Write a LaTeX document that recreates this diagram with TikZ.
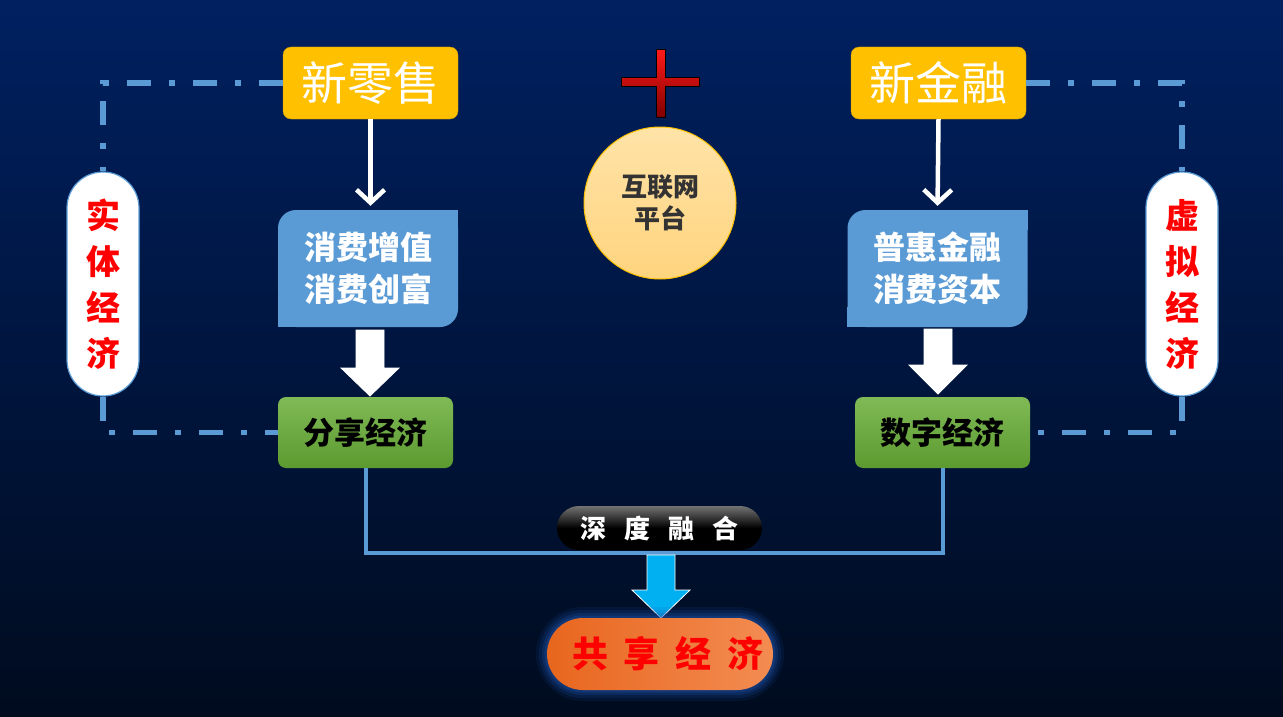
\documentclass[tikz,border=0pt]{standalone}
\usepackage{fontspec}
\setmainfont{Noto Sans CJK SC}
\usetikzlibrary{positioning,arrows.meta}
\definecolor{bgtop}{HTML}{002060}
\definecolor{bgbot}{HTML}{000B1E}
\definecolor{gold}{HTML}{FFC000}
\definecolor{goldline}{HTML}{C99A00}
\definecolor{boxblue}{HTML}{5B9BD5}
\definecolor{linkblue}{HTML}{5B9BD5}
\definecolor{greentop}{HTML}{80BA56}
\definecolor{greenbot}{HTML}{5C9A30}
\definecolor{pillred}{HTML}{FF0000}
\definecolor{suntop}{HTML}{FFE3A8}
\definecolor{sunbot}{HTML}{FFD47E}
\definecolor{arrowcyan}{HTML}{00B0F0}
\definecolor{orleft}{HTML}{E8661E}
\definecolor{orright}{HTML}{F38C52}
\definecolor{glow}{HTML}{1E55B0}
\begin{document}
\begin{tikzpicture}[x=1pt,y=-1pt,
ybox/.style={draw=goldline,fill=gold,rounded corners=8pt,minimum width=175pt,minimum height=72pt,text=white,font=\fontsize{46}{46}\selectfont},
bbox/.style={fill=boxblue,rounded corners=18pt,minimum width=180pt,minimum height=117pt,align=center,text=white,font=\bfseries\fontsize{32}{42}\selectfont},
gbox/.style={top color=greentop,bottom color=greenbot,rounded corners=8pt,minimum width=175pt,minimum height=71pt,font=\bfseries\fontsize{31}{31}\selectfont},
pill/.style={draw=linkblue,line width=1.2pt,fill=white,rounded corners=36pt,minimum width=72pt,minimum height=224pt,align=center,text=pillred,font=\bfseries\fontsize{34}{46}\selectfont},
dashdot/.style={draw=linkblue,line width=5.5pt,dash pattern=on 24pt off 18pt on 6pt off 18pt},
link/.style={draw=linkblue,line width=4pt},
thinarr/.style={draw=white,line width=4.5pt,-{Straight Barb[length=13pt,width=28pt]},shorten >=4pt}]
\useasboundingbox (0,0) rectangle (1283,717);
\shade[top color=bgtop,bottom color=bgbot] (0,0) rectangle (1283,717);
% top row
\node[ybox] (retail) at (370.5,83) {新零售};
\node[ybox] (finance) at (938.5,83) {新金融};
\filldraw[top color=red!90!white,bottom color=red!50!black,draw=black,line width=1pt]
  (656,50) -- (665,50) -- (665,78) -- (699,78) -- (699,87) -- (665,87) -- (665,117)
  -- (656,117) -- (656,87) -- (621,87) -- (621,78) -- (656,78) -- cycle;
\node[circle,draw=gold,line width=1pt,top color=suntop,bottom color=sunbot,minimum size=152pt,align=center,
  text=black!80,font=\bfseries\fontsize{26}{32}\selectfont] (net) at (660,203) {互联网\\平台};
% middle boxes
\node[bbox] (value) at (368,268.5) {消费增值\\消费创富};
\fill[boxblue] (value.north east) rectangle ++(-20,20);
\fill[boxblue] (value.south west) rectangle ++(20,-20);
\node[bbox] (capital) at (937.5,268.5) {普惠金融\\消费资本};
\fill[boxblue] (capital.north east) rectangle ++(-20,20);
\fill[boxblue] (capital.south west) rectangle ++(20,-20);
\node[gbox] (share) at (365.5,432.5) {分享经济};
\node[gbox] (digital) at (942.5,432.5) {数字经济};
% side pills
\node[pill] (real) at (103,284) {实\\体\\经\\济};
\node[pill] (virtual) at (1182,284) {虚\\拟\\经\\济};
\draw[dashdot] (retail.west) -| (real.north);
\draw[dashdot] (real.south) |- (share.west);
\draw[dashdot] (finance.east) -| (virtual.north);
\draw[dashdot] (virtual.south) |- (digital.east);
% arrows
\draw[thinarr] (retail.south) -- (retail.south |- value.north);
\draw[thinarr] (finance.south) -- (capital.north);
\draw[link] (share.south) -- ++(0,85) -| (digital.south);
\node[top color=black!55,bottom color=black,middle color=black,rounded corners=22pt,minimum width=205pt,minimum height=44pt,
  text=white,font=\bfseries\fontsize{26}{26}\selectfont] (fuse) at (659.5,528)
  {深\hspace{18pt}度\hspace{18pt}融\hspace{18pt}合};
\foreach \cx/\ya/\yb/\yc/\col in {370/330/368/396/white,938/329/365/394/white,661/555/590/618/arrowcyan}
  \filldraw[fill=\col,draw=white,line width=0.8pt] (\cx-14,\ya) -- (\cx+14,\ya) -- (\cx+14,\yb) -- (\cx+29,\yb)
    -- (\cx,\yc) -- (\cx-29,\yb) -- (\cx-14,\yb) -- cycle;
% result
\foreach \w/\o in {22/0.12,16/0.16,10/0.22,5/0.3}
  \draw[glow,line width=\w pt,opacity=\o,rounded corners=36pt] (547,618) rectangle (773,690);
\node[left color=orleft,right color=orright,rounded corners=36pt,minimum width=226pt,minimum height=72pt,
  text=pillred,font=\bfseries\fontsize{36}{36}\selectfont] (shared) at (660,654)
  {\hspace{16pt}共\hspace{16pt}享\hspace{16pt}经\hspace{16pt}济};
\end{tikzpicture}
\end{document}
